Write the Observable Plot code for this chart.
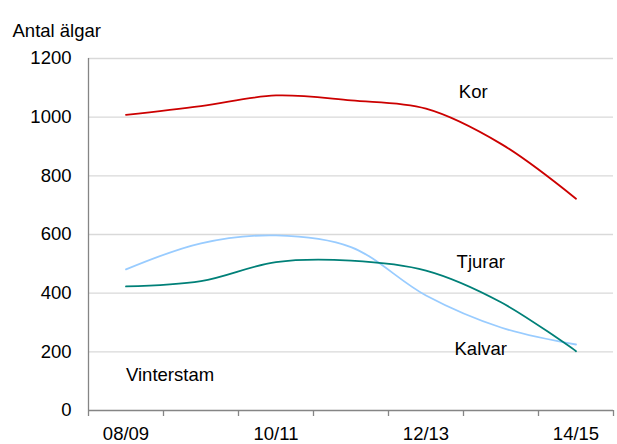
<!DOCTYPE html>
<html>
<head>
<meta charset="utf-8">
<script src="https://cdn.jsdelivr.net/npm/d3@7"></script>
<script src="https://cdn.jsdelivr.net/npm/@observablehq/plot@0.6"></script>
<style>
  html, body { margin: 0; padding: 0; background: #fff; }
  #chart svg { display: block; }
</style>
</head>
<body>
<div id="chart"></div>
<script>
const seasons = ["08/09", "09/10", "10/11", "11/12", "12/13", "13/14", "14/15"];
const kor    = [1008, 1038, 1074, 1057, 1029, 909, 722];
const kalvar = [481, 570, 597, 557, 392, 283, 225];
const tjurar = [423, 441, 506, 511, 477, 369, 202];
const yTicks = [0, 200, 400, 600, 800, 1000, 1200];
const labelTicks = [0, 2, 4, 6];

const series = [
  {name: "Kor", values: kor, color: "#cc0000"},
  {name: "Kalvar", values: kalvar, color: "#99ccff"},
  {name: "Tjurar", values: tjurar, color: "#008078"}
];
const rows = series.flatMap(s => s.values.map((v, i) => ({name: s.name, i, v})));
const boundaries = seasons.map((_, i) => i - 0.5).concat([seasons.length - 0.5]);

const seriesLabels = [
  {text: "Kor", i: 4.63, v: 1084},
  {text: "Tjurar", i: 4.73, v: 507},
  {text: "Kalvar", i: 4.73, v: 208}
];
const stockLabel = [{text: "Vinterstam", i: 0, v: 120}];

const font = "'Liberation Sans', Arial, sans-serif";
const fs = 18.5;

const chart = Plot.plot({
  width: 617,
  height: 444,
  marginLeft: 88,
  marginRight: 4,
  marginTop: 58,
  marginBottom: 34,
  style: {fontFamily: font, fontSize: fs + "px", color: "#000", background: "#fff"},
  x: {type: "linear", domain: [-0.5, seasons.length - 0.5]},
  y: {domain: [0, 1200]},
  color: {domain: series.map(s => s.name), range: series.map(s => s.color)},
  marks: [
    Plot.ruleY(yTicks.slice(1), {stroke: "#d9d9d9", strokeWidth: 1.3}),
    Plot.axisY({ticks: yTicks, tickSize: 0, tickPadding: 17, tickFormat: d => String(d), label: null, fontSize: fs}),
    Plot.axisX({ticks: boundaries, tickSize: 6, tickFormat: () => "", stroke: "#858585", strokeWidth: 1.3, label: null}),
    Plot.axisX({ticks: labelTicks, tickSize: 0, tickPadding: 16, tickFormat: i => seasons[i], label: null, fontSize: fs}),
    Plot.ruleX([-0.5], {stroke: "#858585", strokeWidth: 1.3}),
    Plot.ruleY([0], {stroke: "#858585", strokeWidth: 1.3}),
    Plot.line(rows, {x: "i", y: "v", z: "name", stroke: "name", strokeWidth: 1.8, curve: "catmull-rom"}),
    Plot.text(seriesLabels, {x: "i", y: "v", text: "text", textAnchor: "middle", fontSize: fs, fill: "#000"}),
    Plot.text(stockLabel, {x: "i", y: "v", text: "text", textAnchor: "start", fontSize: fs, fill: "#000"}),
    Plot.text(["Antal älgar"], {frameAnchor: "top-left", dx: -76, dy: -35, textAnchor: "start", fontSize: fs, fill: "#000"})
  ]
});
document.getElementById("chart").appendChild(chart);
</script>
</body>
</html>
